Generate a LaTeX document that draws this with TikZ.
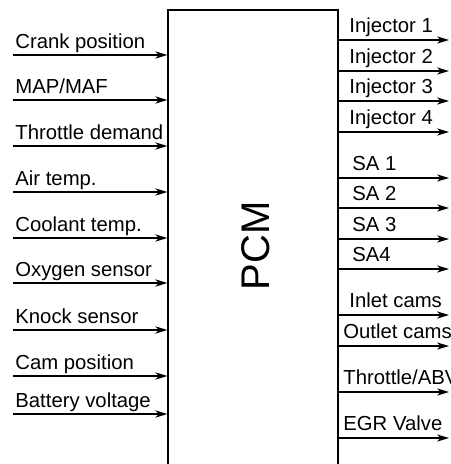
\documentclass[tikz,border=0pt]{standalone}
\usepackage{fontspec}
\setmainfont{Liberation Sans}
\usetikzlibrary{arrows.meta,positioning}

\begin{document}
\begin{tikzpicture}[
    x=0.5pt, y=-0.5pt,
    lbl/.style={inner sep=0pt, anchor=base west, font=\fontsize{10.15}{12}\selectfont},
    sig/.style={-{Stealth[length=6pt, width=3.6pt, inset=1.8pt]}, line width=0.8pt},
    ecu/.style={rectangle, draw, line width=0.6pt, minimum width=85pt, minimum height=230pt, inner sep=0pt}
  ]
  \useasboundingbox (0,0) rectangle (450,464);
  \node[ecu] (pcm) at (253,240) {};
  \node[rotate=90, inner sep=0pt, font=\fontsize{20}{24}\selectfont] (pcmtxt) at (255.5,246) {PCM};

  % sensor inputs
  \coordinate (crank) at (13,55);
  \coordinate (map) at (13,100);
  \coordinate (thr) at (13,146);
  \coordinate (air) at (13,192);
  \coordinate (cool) at (13,238);
  \coordinate (oxy) at (13,283);
  \coordinate (knock) at (13,330);
  \coordinate (cam) at (13,376);
  \coordinate (batt) at (13,414);

  \node[lbl] (crankl) at (15,48.5) {Crank position};
  \node[lbl] (mapl) at (15,93.5) {MAP/MAF};
  \node[lbl] (thrl) at (15,139.5) {Throttle demand};
  \node[lbl] (airl) at (15,185.5) {Air temp.};
  \node[lbl] (cooll) at (15,231.5) {Coolant temp.};
  \node[lbl] (oxyl) at (15,276.5) {Oxygen sensor};
  \node[lbl] (knockl) at (15,323.5) {Knock sensor};
  \node[lbl] (caml) at (15,369.5) {Cam position};
  \node[lbl] (battl) at (15,407.5) {Battery voltage};

  \draw[sig] (crank) -- (crank -| pcm.west);
  \draw[sig] (map) -- (map -| pcm.west);
  \draw[sig] (thr) -- (thr -| pcm.west);
  \draw[sig] (air) -- (air -| pcm.west);
  \draw[sig] (cool) -- (cool -| pcm.west);
  \draw[sig] (oxy) -- (oxy -| pcm.west);
  \draw[sig] (knock) -- (knock -| pcm.west);
  \draw[sig] (cam) -- (cam -| pcm.west);
  \draw[sig] (batt) -- (batt -| pcm.west);

  % actuator outputs
  \coordinate (inj1) at (449,40);
  \coordinate (inj2) at (449,71);
  \coordinate (inj3) at (449,101);
  \coordinate (inj4) at (449,132);
  \coordinate (sa1) at (449,178);
  \coordinate (sa2) at (449,208);
  \coordinate (sa3) at (449,239);
  \coordinate (sa4) at (449,269);
  \coordinate (inlet) at (449,315);
  \coordinate (outlet) at (449,346);
  \coordinate (abv) at (449,392);
  \coordinate (egr) at (449,438);

  \node[lbl] (inj1l) at (349,33) {Injector 1};
  \node[lbl] (inj2l) at (349,63.5) {Injector 2};
  \node[lbl] (inj3l) at (349,93.5) {Injector 3};
  \node[lbl] (inj4l) at (349,124.5) {Injector 4};
  \node[lbl] (sa1l) at (352,170.5) {SA 1};
  \node[lbl] (sa2l) at (352,200.5) {SA 2};
  \node[lbl] (sa3l) at (352,231.5) {SA 3};
  \node[lbl] (sa4l) at (352,261.5) {SA4};
  \node[lbl] (inletl) at (349,307.5) {Inlet cams};
  \node[lbl] (outletl) at (343,338.5) {Outlet cams};
  \node[lbl] (abvl) at (343,384.5) {Throttle/ABV};
  \node[lbl] (egrl) at (343,430.5) {EGR Valve};

  \draw[sig] (inj1 -| pcm.east) -- (inj1);
  \draw[sig] (inj2 -| pcm.east) -- (inj2);
  \draw[sig] (inj3 -| pcm.east) -- (inj3);
  \draw[sig] (inj4 -| pcm.east) -- (inj4);
  \draw[sig] (sa1 -| pcm.east) -- (sa1);
  \draw[sig] (sa2 -| pcm.east) -- (sa2);
  \draw[sig] (sa3 -| pcm.east) -- (sa3);
  \draw[sig] (sa4 -| pcm.east) -- (sa4);
  \draw[sig] (inlet -| pcm.east) -- (inlet);
  \draw[sig] (outlet -| pcm.east) -- (outlet);
  \draw[sig] (abv -| pcm.east) -- (abv);
  \draw[sig] (egr -| pcm.east) -- (egr);
\end{tikzpicture}
\end{document}
